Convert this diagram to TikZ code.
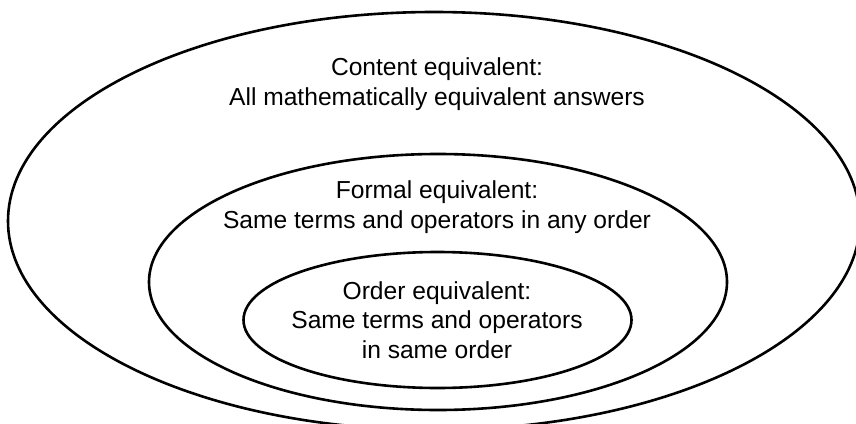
\documentclass[tikz,border=0pt]{standalone}
\usepackage{fontspec}
\setmainfont{Liberation Sans}
\begin{document}
\begin{tikzpicture}[x=1pt,y=-1pt]
\tikzset{
  ring/.style={draw=black, line width=2.6pt},
  txtblock/.style={align=center, font=\fontsize{24.6}{29.5}\selectfont, inner sep=0pt, anchor=base}
}
\useasboundingbox (0,0) rectangle (856,423);
\clip (0,0) rectangle (856,423);
\coordinate (outerc) at (434,221);
\coordinate (midc) at (438,282);
\coordinate (innerc) at (437.5,320);
\draw[ring] (outerc) ellipse [x radius=426pt, y radius=209pt];
\draw[ring] (midc) ellipse [x radius=289pt, y radius=128pt];
\draw[ring] (innerc) ellipse [x radius=194pt, y radius=68pt];
% anchor=base sits on the baseline of the last line
\node[txtblock] (content) at (437,105) {Content equivalent:\\All mathematically equivalent answers};
\node[txtblock] (formal) at (437,228) {Formal equivalent:\\Same terms and operators in any order};
\node[txtblock] (order) at (437,358) {Order equivalent:\\Same terms and operators\\in same order};
\end{tikzpicture}
\end{document}
